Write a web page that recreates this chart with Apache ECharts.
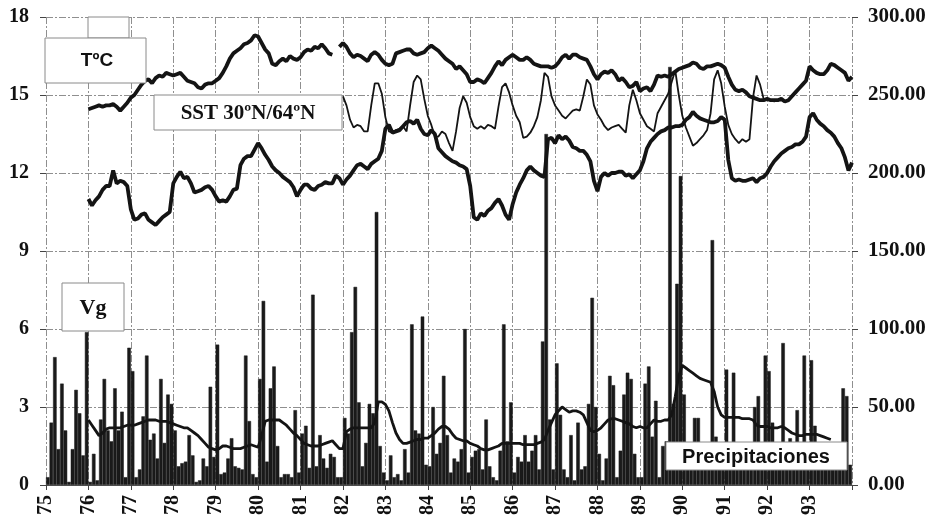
<!DOCTYPE html>
<html><head><meta charset="utf-8">
<script src="https://cdn.jsdelivr.net/npm/echarts@6/dist/echarts.min.js"></script>
<style>html,body{margin:0;padding:0;background:#fff}#c{width:933px;height:523px}</style>
</head><body><div id="c"></div>
<script>
// ---- data ----
const yearTicks = [75,76,77,78,79,80,81,82,83,84,85,86,87,88,89,90,91,92,93];
const leftTicks = [0,3,6,9,12,15,18];
const rightTicks = [0,50,100,150,200,250,300];

// Monthly precipitation (mm), Jan 1975 .. Dec 1993 (right axis)
const precipStart = 75;
const precip = [
  5,40,82,23,65,35,2,23,61,46,19,98,
  2,20,3,42,68,35,28,62,35,47,5,88,
  73,5,10,44,83,29,33,17,68,27,58,52,
  35,12,14,15,32,19,2,3,17,12,63,18,
  90,7,8,17,30,12,11,10,83,41,7,5,
  68,118,15,62,76,25,5,7,7,5,48,8,
  33,38,11,122,12,32,17,11,20,18,5,5,
  43,33,98,127,53,12,27,52,46,175,25,8,
  3,19,5,7,3,23,8,103,35,33,108,13,
  12,50,20,27,70,32,8,17,15,23,100,8,
  18,22,23,10,42,12,5,3,22,103,28,53,
  8,18,15,32,15,22,32,10,92,225,42,10,
  78,45,10,5,32,3,40,10,12,52,120,50,
  20,3,17,70,64,5,22,58,72,68,20,5,
  5,65,76,31,54,5,25,28,268,52,129,198,
  58,15,17,43,43,20,13,17,157,31,17,17,
  74,27,72,15,20,13,22,17,50,57,25,83,
  73,40,17,17,91,17,30,15,48,17,83,17,
  80,38,18,13,17,13,17,15,17,62,57,13
];

// Monthly lines from Jan 1976 (left axis)
const lineStart = 76;
const tempT = [
  14.45,14.5,14.55,14.6,14.55,14.6,14.6,14.65,14.55,14.4,14.55,14.7,
  14.9,15.0,15.2,15.4,15.55,15.6,15.45,15.65,15.75,15.7,15.85,15.8,
  15.75,15.8,15.85,15.7,15.55,15.5,15.45,15.3,15.25,15.4,15.45,15.45,
  15.55,15.65,15.85,16.1,16.4,16.6,16.7,16.8,16.95,17.0,17.1,17.3,
  17.25,17.0,16.75,16.6,16.2,16.15,16.3,16.4,16.3,16.5,16.4,16.35,
  16.45,16.65,16.75,16.7,16.85,16.8,16.95,16.8,16.6,16.55,null,16.85,
  17.0,16.85,16.6,16.45,16.55,16.5,16.4,16.3,16.55,16.65,16.55,16.35,
  16.2,16.15,16.2,16.6,16.65,16.7,16.75,16.75,16.6,16.55,16.6,16.65,
  16.8,16.9,16.8,16.7,16.55,16.4,16.3,16.2,16.0,16.1,15.95,15.8,
  15.5,15.5,15.6,15.55,15.45,15.65,15.85,16.1,16.3,16.15,16.35,16.45,
  16.55,16.45,16.35,16.35,16.45,16.35,16.2,16.15,16.1,16.1,16.1,16.05,
  16.1,16.25,16.45,16.55,16.4,16.55,16.55,16.45,16.4,16.35,16.1,15.8,
  15.6,15.8,15.9,15.85,15.95,15.8,15.55,15.65,15.5,15.3,15.35,15.5,
  15.15,15.25,15.3,15.15,15.4,15.75,15.7,15.75,15.7,15.8,15.9,16.0,
  16.05,16.1,16.15,16.25,16.2,16.05,16.0,16.1,16.1,16.15,16.2,16.15,
  16.05,15.7,15.4,15.2,15.15,15.2,15.1,14.95,14.9,14.85,14.8,14.8,
  14.85,14.8,14.8,14.8,14.85,14.75,14.8,14.95,15.1,15.25,15.4,15.55,
  16.1,15.95,15.85,15.8,15.8,15.95,16.2,16.15,16.05,15.95,15.85,15.55,15.7
];
const vg = [
  11.0,10.75,10.95,11.1,11.35,11.5,11.5,12.1,11.6,11.7,11.65,11.5,
  10.6,10.2,10.25,10.4,10.45,10.2,10.1,10.0,10.15,10.3,10.4,10.5,
  11.6,11.85,12.05,11.8,11.85,11.6,11.25,11.3,11.35,11.45,11.5,11.35,
  11.1,10.9,10.95,10.9,11.1,11.35,11.4,12.3,12.55,12.65,12.65,12.9,
  13.15,12.95,12.7,12.5,12.25,12.1,12.0,11.85,11.75,11.65,11.45,11.1,
  11.35,11.55,11.55,11.4,11.35,11.5,11.55,11.65,11.6,11.6,11.9,11.8,
  11.55,11.75,11.9,12.1,12.3,12.35,12.25,12.15,12.35,12.45,12.55,12.85,
  13.7,13.85,13.55,13.6,13.65,13.8,13.95,14.0,13.9,14.05,13.7,13.5,
  13.45,13.65,13.5,12.95,12.8,12.65,12.55,12.45,12.4,12.3,12.25,12.15,
  11.5,10.3,10.2,10.45,10.35,10.55,10.65,10.85,11.0,10.75,10.4,10.2,
  10.8,11.25,11.55,11.8,12.1,12.25,12.1,12.0,11.9,11.85,13.3,13.35,
  13.15,13.45,13.3,13.4,13.25,13.0,12.95,12.85,12.85,12.7,12.45,11.7,
  11.3,11.85,12.0,11.9,12.0,12.0,12.05,12.05,11.9,11.95,11.8,11.95,
  12.1,12.45,12.95,13.2,13.35,13.5,13.6,13.65,13.75,13.75,13.8,13.8,
  13.85,14.05,14.15,14.35,14.2,14.1,14.05,14.0,13.95,13.95,14.0,14.15,
  14.05,12.5,11.8,11.7,11.75,11.7,11.7,11.75,11.8,11.65,11.8,11.85,
  12.0,12.25,12.45,12.6,12.75,12.85,12.95,13.0,13.1,13.1,13.2,13.4,
  14.15,14.3,14.05,13.9,13.8,13.65,13.55,13.4,13.15,12.95,12.6,12.1,12.4
];
const precipMean = [
  2.5,2.3,2.1,1.9,2.0,2.15,2.2,2.2,2.2,2.2,2.25,2.3,
  2.3,2.3,2.35,2.4,2.45,2.5,2.5,2.5,2.45,2.45,2.45,2.4,
  2.35,2.3,2.25,2.2,2.2,2.1,2.0,1.9,1.75,1.6,1.45,1.4,
  1.35,1.4,1.5,1.5,1.45,1.4,1.4,1.4,1.45,1.5,1.55,1.5,
  1.45,1.9,2.45,2.5,2.5,2.5,2.5,2.4,2.3,2.15,2.0,1.9,
  1.75,1.6,1.55,1.5,1.5,1.5,1.55,1.6,1.65,1.7,1.55,1.4,
  1.4,2.05,2.15,2.2,2.2,2.2,2.2,2.2,2.2,2.4,3.2,3.2,
  3.1,2.85,2.4,2.0,1.75,1.6,1.6,1.65,1.7,1.75,1.75,1.8,
  1.8,1.9,2.0,2.15,2.25,2.25,2.15,1.95,1.8,1.75,1.7,1.7,
  1.6,1.55,1.5,1.4,1.35,1.35,1.4,1.45,1.5,1.6,1.6,1.6,
  1.6,1.6,1.6,1.55,1.55,1.55,1.55,1.6,1.65,1.75,2.1,2.4,
  2.7,2.85,3.0,2.9,2.8,2.85,2.85,2.8,2.7,2.4,2.1,2.05,
  2.1,2.2,2.35,2.5,2.55,2.55,2.5,2.45,2.4,2.35,2.25,2.2,
  2.25,2.2,2.2,2.35,2.5,2.45,2.45,2.5,2.5,2.7,3.4,4.2,
  4.6,4.5,4.4,4.3,4.2,4.1,4.05,4.0,3.95,3.6,3.0,2.7,
  2.6,2.6,2.6,2.6,2.6,2.55,2.55,2.55,2.5,2.3,2.25,2.25,
  2.25,2.2,2.2,2.2,2.25,2.2,2.1,2.0,1.95,1.9,1.9,1.95,
  1.95,1.95,1.95,1.9,1.85,1.8,1.75
];
// SST 30ºN/64ºN monthly from Jan 1982 (left axis)
const sstStart = 82;
const sst = [
  14.95,14.6,14.05,13.75,13.85,13.8,13.6,13.6,14.6,15.45,15.45,15.05,
  14.15,13.6,13.55,13.65,13.7,13.8,13.6,14.6,15.5,15.75,15.6,14.85,
  14.2,13.85,13.4,13.4,13.6,13.5,13.15,12.85,13.6,14.5,14.95,14.7,
  14.15,13.8,13.7,13.8,13.7,13.85,13.8,13.7,14.55,15.3,15.45,15.1,
  14.6,14.2,13.95,13.35,13.4,13.55,13.8,14.15,14.8,15.85,15.7,14.95,
  14.6,14.4,14.2,14.1,14.25,14.4,14.45,14.4,14.95,15.6,15.4,14.6,
  14.25,14.05,13.8,13.65,13.75,13.8,13.85,13.7,13.55,14.6,15.2,14.8,
  14.3,14.05,13.8,13.7,13.6,14.3,14.55,14.8,15.05,15.5,15.95,15.0,
  14.2,13.75,13.4,13.05,13.15,13.3,13.45,13.65,14.3,15.6,15.95,15.45,
  14.55,13.85,13.5,13.3,13.15,13.3,13.2,13.3,14.9,15.75,15.4,14.85,
  14.8,14.8,14.75,14.8
];

// ---- chart ----
const monthly = (arr, start, off) => arr.map((v, i) => [start + (i + off) / 12, v]);
const monthCats = precip.map((v, i) => (precipStart + Math.floor(i / 12)) + '-' + (i % 12 + 1));
const serif = '"Liberation Serif","Times New Roman",serif';
const sans = '"Liberation Sans",Arial,sans-serif';
const gridLine = { show: true, lineStyle: { color: '#8f8f8f', width: 1, type: [7, 2, 2, 2] } };

const chart = echarts.init(document.getElementById('c'), null, { renderer: 'canvas' });
chart.setOption({
  animation: false,
  backgroundColor: '#ffffff',
  grid: { left: 46, right: 81, top: 17, bottom: 38, containLabel: false },
  xAxis: [
    {
      type: 'value', min: 75, max: 94, interval: 1,
      axisLine: { show: true, lineStyle: { color: '#555', width: 1 } },
      axisTick: { show: true, length: 5, lineStyle: { color: '#444' } },
      axisLabel: {
        rotate: 90, margin: 10, fontFamily: serif, fontWeight: 'bold', fontSize: 20, color: '#111',
        formatter: v => (yearTicks.indexOf(Math.round(v)) >= 0 ? String(Math.round(v)) : '')
      },
      splitLine: gridLine
    },
    {
      type: 'category', data: monthCats, boundaryGap: true, show: false,
      axisLine: { show: false }, axisTick: { show: false }, axisLabel: { show: false }, splitLine: { show: false }
    }
  ],
  yAxis: [
    {
      type: 'value', min: leftTicks[0], max: leftTicks[leftTicks.length - 1], interval: 3,
      axisLine: { show: false },
      axisTick: { show: true, length: 6, lineStyle: { color: '#444' } },
      axisLabel: { margin: 17, fontFamily: serif, fontWeight: 'bold', fontSize: 20, color: '#111' },
      splitLine: gridLine
    },
    {
      type: 'value', min: rightTicks[0], max: rightTicks[rightTicks.length - 1], interval: 50,
      axisLine: { show: false },
      axisTick: { show: true, length: 6, lineStyle: { color: '#444' } },
      axisLabel: { margin: 16, fontFamily: serif, fontWeight: 'bold', fontSize: 21, color: '#111',
        formatter: v => v.toFixed(2) },
      splitLine: { show: false }
    }
  ],
  series: [
    { name: 'Precipitaciones', type: 'bar', xAxisIndex: 1, yAxisIndex: 1, barCategoryGap: '0%',
      itemStyle: { color: '#1a1a1a', borderColor: '#1a1a1a', borderWidth: 0.5 }, data: precip, z: 2 },
    { name: 'media', type: 'line', xAxisIndex: 0, yAxisIndex: 0, symbol: 'none', z: 3,
      lineStyle: { color: '#141414', width: 2.8 }, data: monthly(precipMean, lineStart, 0) },
    { name: 'SST', type: 'line', xAxisIndex: 0, yAxisIndex: 0, symbol: 'none', z: 3,
      lineStyle: { color: '#141414', width: 1.8 }, data: monthly(sst, sstStart, 0) },
    { name: 'Vg', type: 'line', xAxisIndex: 0, yAxisIndex: 0, symbol: 'none', z: 4,
      lineStyle: { color: '#141414', width: 3.8 }, data: monthly(vg, lineStart, 0) },
    { name: 'TºC', type: 'line', xAxisIndex: 0, yAxisIndex: 0, symbol: 'none', z: 4, connectNulls: false,
      lineStyle: { color: '#141414', width: 3.8 }, data: monthly(tempT, lineStart, 0) }
  ],
  graphic: [
    { type: 'rect', z: 100, shape: { x: 88, y: 17, width: 41, height: 21 },
      style: { fill: '#fff', stroke: '#8a8a8a', lineWidth: 1 } },
    { type: 'rect', z: 100, shape: { x: 45, y: 38, width: 101, height: 45 },
      style: { fill: '#fff', stroke: '#8a8a8a', lineWidth: 1 } },
    { type: 'text', z: 101, x: 97, y: 61,
      style: { text: 'TºC', fontFamily: sans, fontWeight: 'bold', fontSize: 19, fill: '#111', align: 'center', verticalAlign: 'middle' } },
    { type: 'rect', z: 100, shape: { x: 154, y: 95, width: 188, height: 35 },
      style: { fill: '#fff', stroke: '#8a8a8a', lineWidth: 1 } },
    { type: 'text', z: 101, x: 248, y: 114,
      style: { text: 'SST 30ºN/64ºN', fontFamily: serif, fontWeight: 'bold', fontSize: 21, fill: '#111', align: 'center', verticalAlign: 'middle' } },
    { type: 'rect', z: 100, shape: { x: 62, y: 283, width: 62, height: 48 },
      style: { fill: '#fff', stroke: '#8a8a8a', lineWidth: 1 } },
    { type: 'text', z: 101, x: 93, y: 308,
      style: { text: 'Vg', fontFamily: serif, fontWeight: 'bold', fontSize: 22, fill: '#111', align: 'center', verticalAlign: 'middle' } },
    { type: 'rect', z: 100, shape: { x: 666, y: 442, width: 181, height: 28 },
      style: { fill: '#fff', stroke: '#8a8a8a', lineWidth: 1 } },
    { type: 'text', z: 101, x: 756, y: 457,
      style: { text: 'Precipitaciones', fontFamily: sans, fontWeight: 'bold', fontSize: 20, fill: '#111', align: 'center', verticalAlign: 'middle' } }
  ]
});
</script>
</body></html>
